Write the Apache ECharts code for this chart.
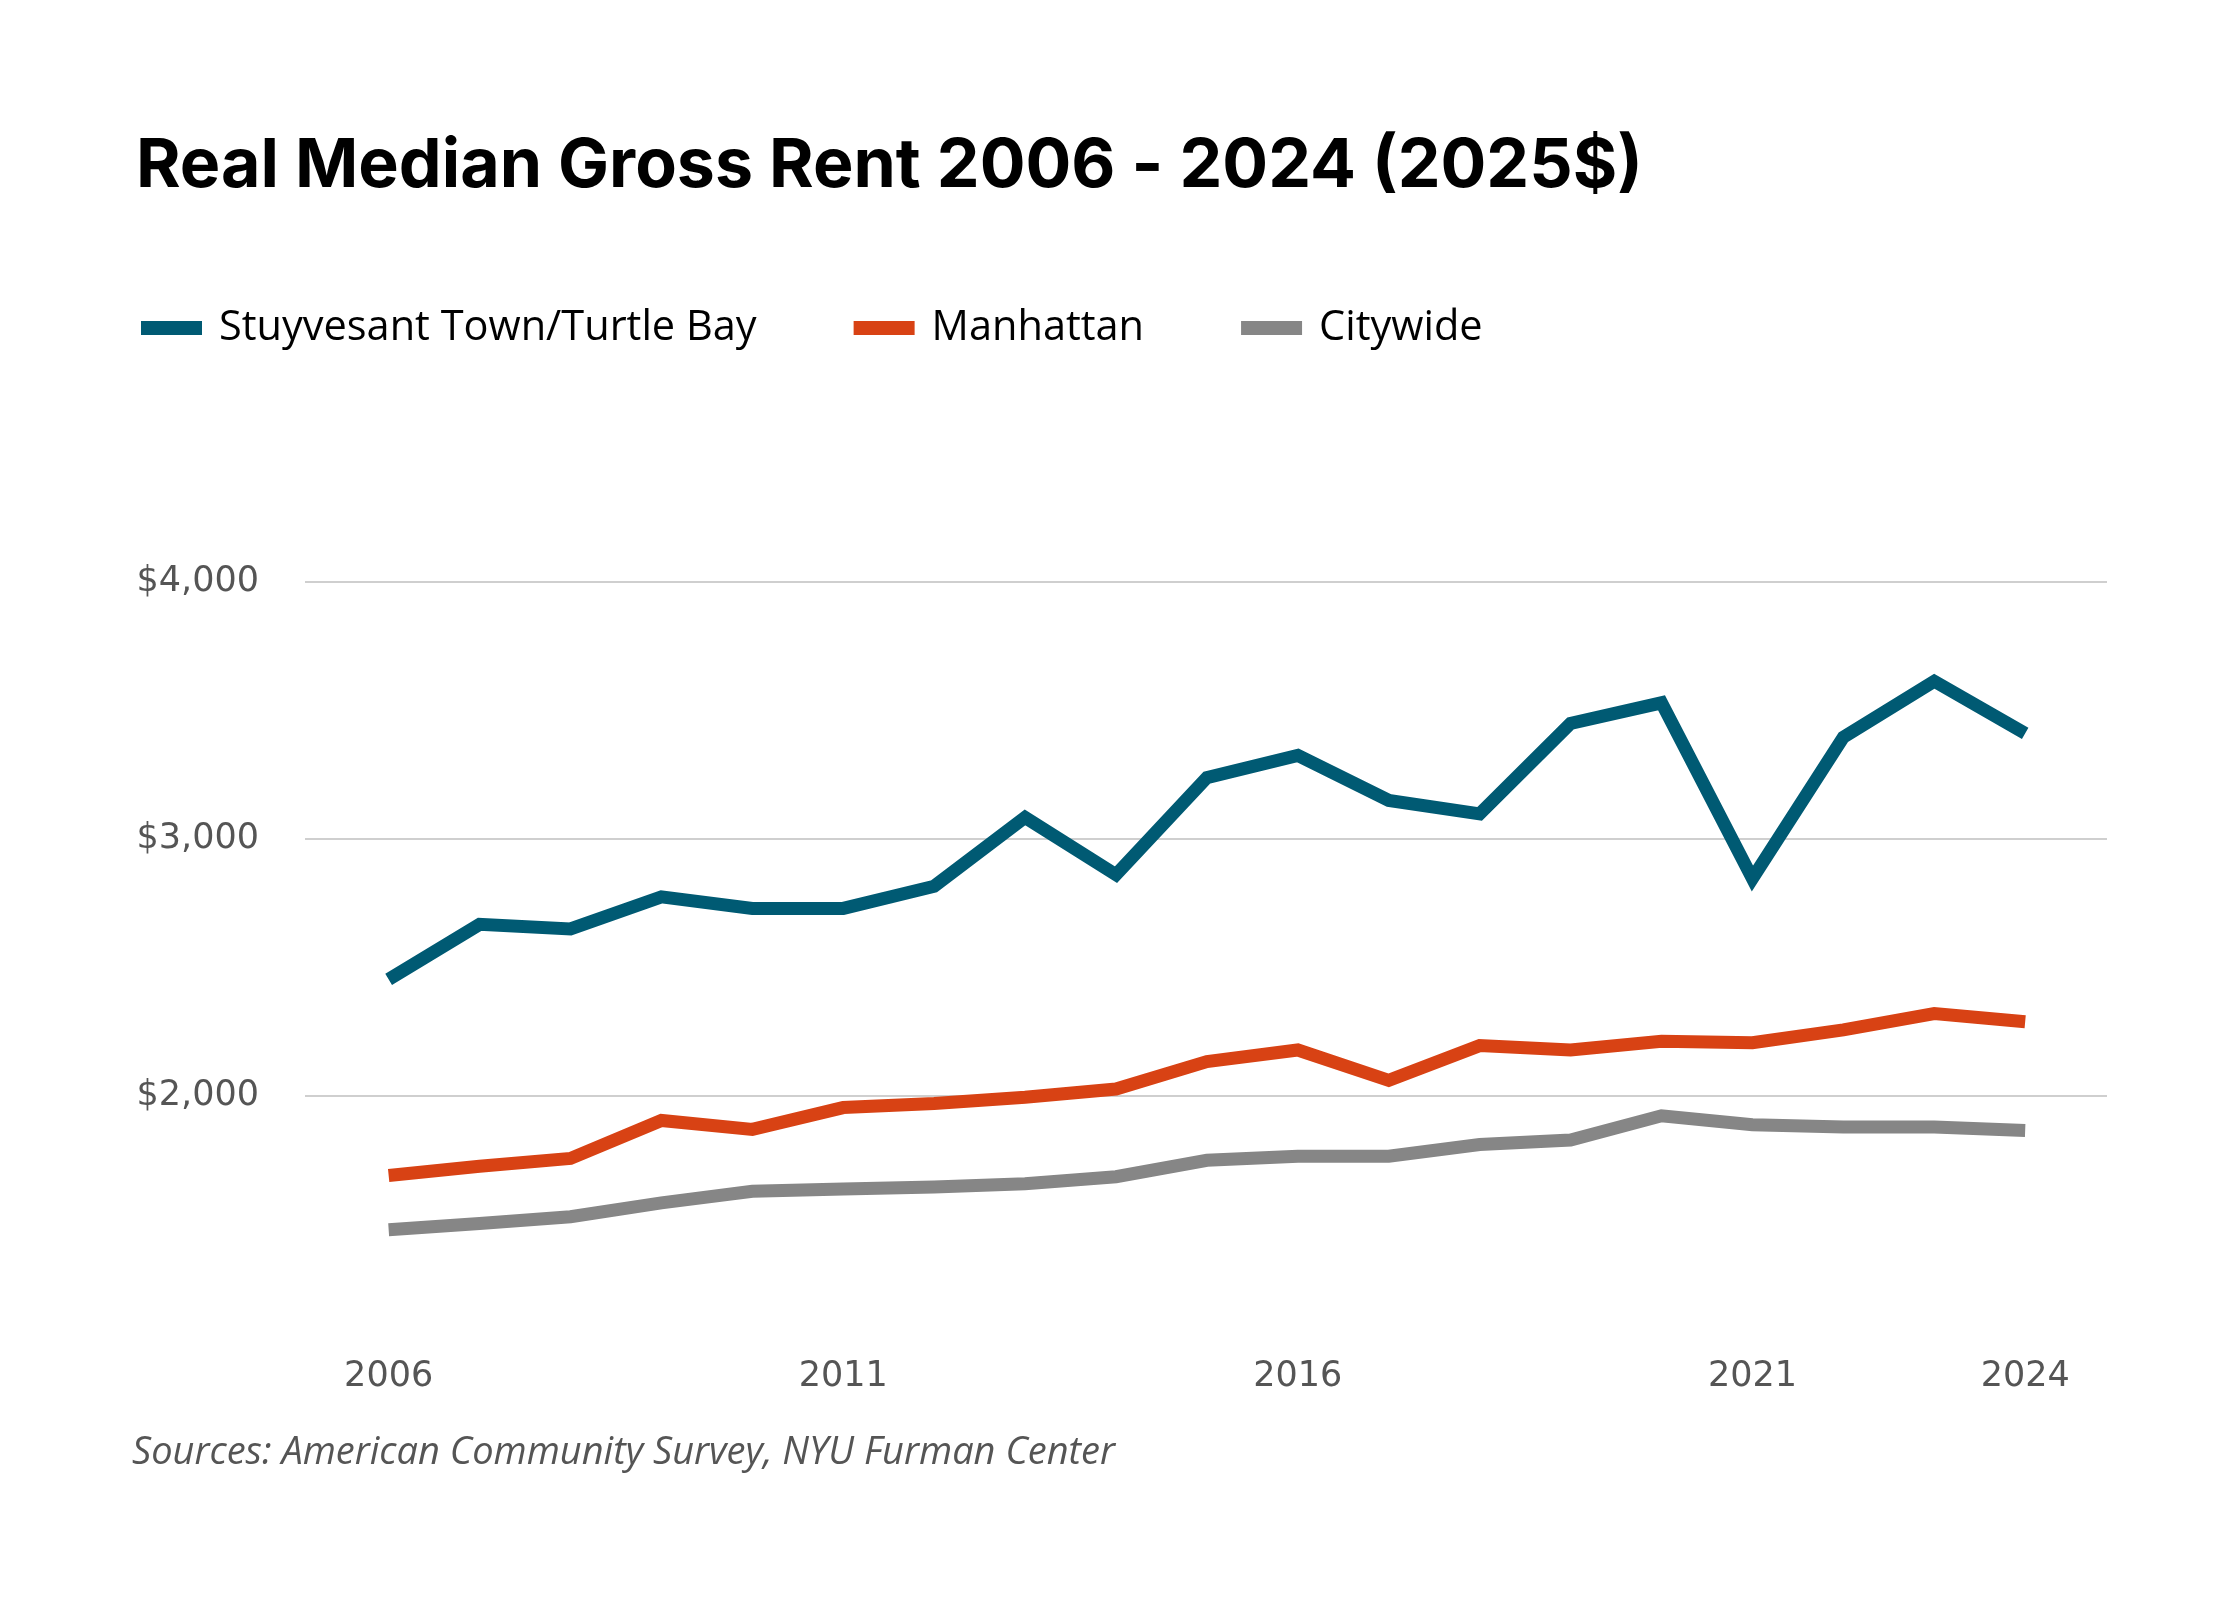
<!DOCTYPE html>
<html>
<head>
<meta charset="utf-8">
<title>Real Median Gross Rent 2006 - 2024</title>
<script src="https://cdn.jsdelivr.net/npm/echarts@6/dist/echarts.min.js"></script>
<style>
  html, body { margin: 0; padding: 0; background: #fff; }
  #chart { width: 2240px; height: 1600px; }
</style>
</head>
<body>
<div id="chart"></div>
<script>
// data (2025 dollars)
const years = [2006, 2007, 2008, 2009, 2010, 2011, 2012, 2013, 2014, 2015,
  2016, 2017, 2018, 2019, 2020, 2021, 2022, 2023, 2024]
const stuyTown = [2454, 2668, 2650, 2775, 2730, 2730, 2816, 3084, 2861, 3239,
  3325, 3150, 3098, 3450, 3530, 2846, 3396, 3614, 3411]
const manhattan = [1691, 1727, 1757, 1905, 1870, 1955, 1971, 1995, 2027, 2134,
  2179, 2061, 2196, 2179, 2213, 2207, 2257, 2321, 2289]
const citywide = [1480, 1504, 1530, 1584, 1629, 1638, 1646, 1659, 1686, 1750,
  1766, 1766, 1811, 1829, 1923, 1888, 1879, 1879, 1866]
const xTicks = [2006, 2011, 2016, 2021, 2024]
const yTicks = [2000, 3000, 4000]

const seriesNames = ['Stuyvesant Town/Turtle Bay', 'Manhattan', 'Citywide']
const colors = ['#005a73', '#d84214', '#868686']

const pairs = (vals) => years.map((y, i) => [y, vals[i]])

const myChart = echarts.init(document.getElementById('chart'))

// one line series
const makeLine = (name, vals, color) => ({
    name: name,
    type: 'line',
    data: pairs(vals),
    symbol: 'none',
    lineStyle: { width: 13, color: color, join: 'miter' },
    itemStyle: { color: color },
    emphasis: { disabled: true },
    silent: true
})

myChart.setOption({
    animation: false,
    backgroundColor: '#fff',
    color: colors,
    title: [{
        text: 'Real Median Gross Rent 2006 - 2024 (2025$)',
        left: 136,
        top: 133,
        padding: 0,
        textStyle: { fontFamily: 'Inter', fontWeight: 'bold', fontSize: 68, color: '#000' }
    }, {
        text: 'Sources: American Community Survey, NYU Furman Center',
        left: 132,
        top: 1434,
        padding: 0,
        textStyle: { fontFamily: 'Open Sans', fontStyle: 'italic', fontWeight: 'normal', fontSize: 38, color: '#555' }
    }],
    legend: {
        left: 141,
        top: 307,
        padding: 0,
        icon: 'rect',
        itemWidth: 61,
        itemHeight: 14,
        itemGap: 97,
        textStyle: { fontFamily: 'Open Sans', fontSize: 41.5, color: '#000', padding: [0, 0, 0, 12] },
        data: seriesNames
    },
    grid: { left: 305, right: 133, top: 582, bottom: 247 },
    xAxis: {
        type: 'value',
        min: 2005.08,
        max: 2024.9,
        axisLine: { show: false },
        axisTick: { show: false },
        splitLine: { show: false },
        axisLabel: {
            customValues: xTicks,
            margin: 6,
            fontFamily: 'DejaVu Sans',
            fontSize: 35,
            color: '#555',
            formatter: (v) => String(v)
        }
    },
    yAxis: {
        type: 'value',
        min: 1000,
        max: 4000,
        interval: 1000,
        axisLine: { show: false },
        axisTick: { show: false },
        splitLine: { show: true, showMinLine: false, lineStyle: { color: '#cfcfcf', width: 2 } },
        axisLabel: {
            showMinLabel: false,
            margin: 46,
            fontFamily: 'DejaVu Sans',
            fontSize: 35,
            color: '#555',
            padding: [6, 0, 0, 0],
            formatter: (v) => yTicks.includes(v) ? '$' + v.toLocaleString('en-US') : ''
        }
    },
    series: [
        makeLine(seriesNames[0], stuyTown, colors[0]),
        makeLine(seriesNames[1], manhattan, colors[1]),
        makeLine(seriesNames[2], citywide, colors[2])
    ]
})
</script>
</body>
</html>
